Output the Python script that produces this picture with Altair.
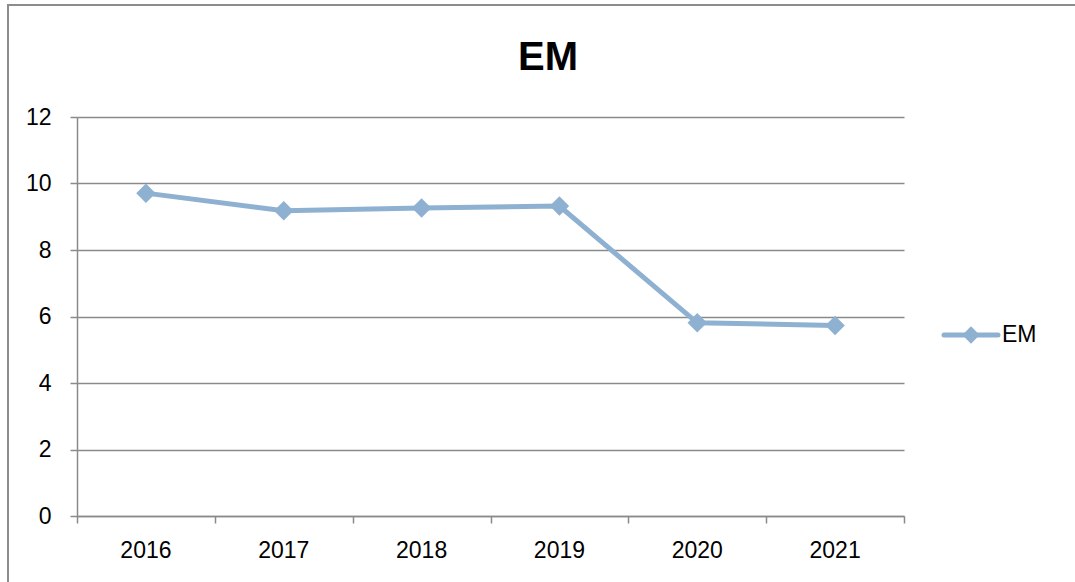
import altair as alt
import pandas as pd

years = [2016, 2017, 2018, 2019, 2020, 2021]
em_values = [9.71, 9.18, 9.26, 9.32, 5.81, 5.73]
series_name = "EM"
title_text = "EM"
y_ticks = [0, 2, 4, 6, 8, 10, 12]
x_edges = [2015.5, 2016.5, 2017.5, 2018.5, 2019.5, 2020.5, 2021.5]

df = pd.DataFrame({"year": years, "value": em_values})
lab = pd.DataFrame({"year": years, "label": [str(y) for y in years]})
leg = pd.DataFrame({"name": [series_name]})
ttl = pd.DataFrame({"t": [title_text]})

W, H = 827, 399
LINE = "#8FB1D1"
GRID = "#8A8A8A"
FONT = "Liberation Sans"

xscale = alt.Scale(domain=[2015.5, 2021.5], nice=False, zero=False)
yscale = alt.Scale(domain=[0, 12], nice=False)

x_axis = alt.Axis(values=x_edges, labels=False, tickSize=7, tickColor=GRID, tickWidth=1.5,
                  domainColor=GRID, domainWidth=1.5, grid=False, title=None)
y_axis = alt.Axis(values=y_ticks, tickSize=7, tickColor=GRID, tickWidth=1.5,
                  domainColor=GRID, domainWidth=1.5, grid=True, gridColor=GRID, gridWidth=1.5,
                  labelFont=FONT, labelFontSize=23, labelColor="black", labelPadding=19,
                  title=None)

base = alt.Chart(df)

line = base.mark_line(color=LINE, strokeWidth=5).encode(
    x=alt.X("year:Q", scale=xscale, axis=x_axis),
    y=alt.Y("value:Q", scale=yscale, axis=y_axis),
)
pts = base.mark_point(shape="diamond", filled=True, color=LINE, size=380, opacity=1).encode(
    x=alt.X("year:Q", scale=xscale),
    y=alt.Y("value:Q", scale=yscale),
)
xlabels = alt.Chart(lab).mark_text(font=FONT, fontSize=23, color="black", baseline="middle").encode(
    x=alt.X("year:Q", scale=xscale),
    y=alt.value(434),
    text="label:N",
)
title = alt.Chart(ttl).mark_text(font=FONT, fontSize=40, fontWeight="bold", color="black",
                                 baseline="middle").encode(
    x=alt.value(471), y=alt.value(-59), text="t:N"
)
leg_line = alt.Chart(leg).mark_rule(color=LINE, strokeWidth=5, strokeCap="round").encode(
    x=alt.value(867), x2=alt.value(921), y=alt.value(218)
)
leg_pt = alt.Chart(leg).mark_point(shape="diamond", filled=True, color=LINE, size=300, opacity=1).encode(
    x=alt.value(894), y=alt.value(218)
)
leg_txt = alt.Chart(leg).mark_text(font=FONT, fontSize=23, color="black", align="left",
                                   baseline="middle").encode(
    x=alt.value(925), y=alt.value(218), text="name:N"
)
frame = alt.Chart(leg).mark_rect(fill=None, stroke="#8C8C8C", strokeWidth=2, clip=False).encode(
    x=alt.value(-69), x2=alt.value(2000), y=alt.value(-112), y2=alt.value(900)
)

chart = alt.layer(frame, line, pts, xlabels, title, leg_line, leg_pt, leg_txt).properties(
    width=W, height=H,
    padding={"left": 77, "top": 117, "right": 171, "bottom": 66},
    autosize=alt.AutoSizeParams(type="none"),
    background="white",
).configure_view(stroke=None)

chart.save("out.html", embed_options={"renderer": "svg", "actions": False})
